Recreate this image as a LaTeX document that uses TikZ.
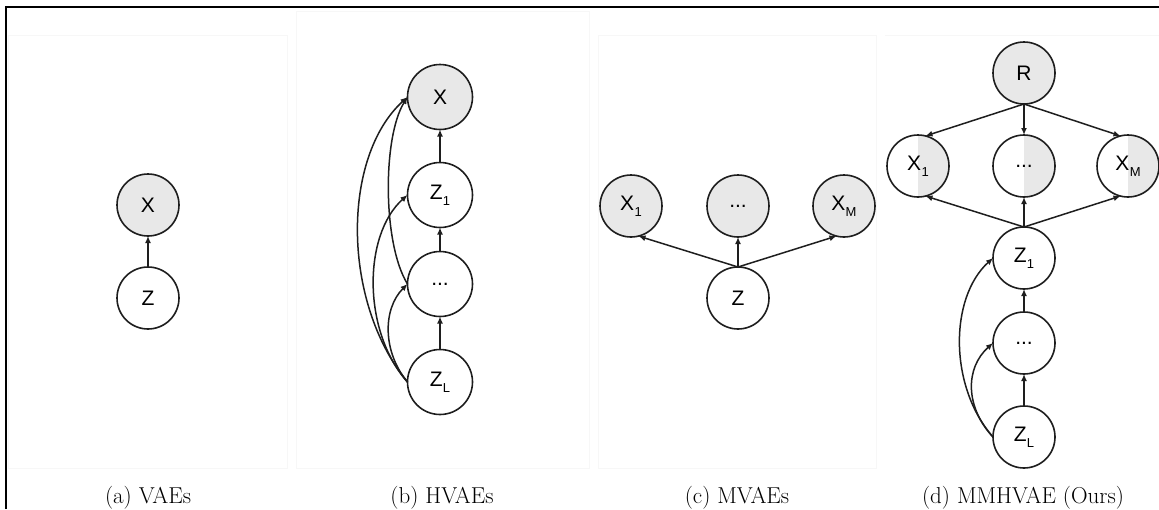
\documentclass[tikz,border=0pt]{standalone}
\usepackage{fontspec}
\newfontfamily\nodefont{Liberation Sans}
\usetikzlibrary{arrows.meta}
\definecolor{obs}{HTML}{E8E8E8}
\definecolor{ln}{HTML}{1E1E1E}
\newcommand{\mysub}[2]{#1\kern0.3pt\raisebox{-6pt}{\fontsize{13}{13}\selectfont #2}}
\begin{document}
\begin{tikzpicture}[x=1pt,y=-1pt,
  var/.style={circle,draw=ln,line width=1.6pt,minimum size=62pt,inner sep=0pt,outer sep=0pt,font=\nodefont\fontsize{21}{21}\selectfont},
  bigvar/.style={var,minimum size=65pt},
  obsvar/.style={fill=obs},
  halfvar/.style={path picture={\fill[obs] (path picture bounding box.north) rectangle (path picture bounding box.south east);}},
  edge/.style={draw=ln,line width=1.5pt,-{Latex[length=7pt,width=6pt]}},
  capt/.style={font=\fontsize{23}{23}\selectfont,anchor=base},
  panel/.style={draw=black!3,line width=0.8pt}
]
\useasboundingbox (0,0) rectangle (1159,509);
% faint panel frames
\draw[panel] (8,35) rectangle (287,468);
\draw[panel] (296,11) rectangle (589,468);
\draw[panel] (598,35) rectangle (876,468);
\draw[panel] (885,35) -- (1159,35);
% outer frame
\draw[line width=2.2pt] (6,509) -- (6,7) -- (1159,7);

% (a) VAEs
\node[var,obsvar] (aX) at (148,205) {X};
\node[var] (aZ) at (148,298) {Z};
\draw[edge] (aZ) -- (aX);
\node[capt] (ca) at (148,503) {(a) VAEs};

% (b) HVAEs
\node[bigvar,obsvar] (bX) at (440,97) {X};
\node[bigvar] (bZ1) at (440,195) {\mysub{Z}{1}};
\node[bigvar] (bD) at (440,284) {...};
\node[bigvar] (bZL) at (440,382) {\mysub{Z}{L}};
\draw[edge] (bZ1) -- (bX);
\draw[edge] (bD) -- (bZ1);
\draw[edge] (bZL) -- (bD);
\draw[edge] (bZL.west) .. controls +(-66,-80) and +(-66,60) .. (bX.west);
\draw[edge] (bD.west) .. controls +(-25,-40) and +(-25,40) .. (bX.west);
\draw[edge] (bZL.west) .. controls +(-45,-50) and +(-45,40) .. (bZ1.west);
\draw[edge] (bZL.west) .. controls +(-25,-30) and +(-25,25) .. (bD.west);
\node[capt] (cb) at (442,503) {(b) HVAEs};

% (c) MVAEs
\node[var,obsvar] (cX1) at (631,206) {\mysub{X}{1}};
\node[var,obsvar] (cD) at (738,206) {...};
\node[var,obsvar] (cXM) at (844,206) {\mysub{X}{M}};
\node[var] (cZ) at (738,298) {Z};
\draw[edge] (cZ.north) -- (cX1.-76);
\draw[edge] (cZ.north) -- (cD.south);
\draw[edge] (cZ.north) -- (cXM.-104);
\node[capt] (cc) at (737,503) {(c) MVAEs};

% (d) MMHVAE
\node[var,obsvar] (dR) at (1024,73) {R};
\node[var,halfvar] (dX1) at (918,166) {\mysub{X}{1}};
\node[var,halfvar] (dD) at (1024,166) {...};
\node[var,halfvar] (dXM) at (1128,166) {\mysub{X}{M}};
\node[var] (dZ1) at (1024,258) {\mysub{Z}{1}};
\node[var] (dD2) at (1024,343) {...};
\node[var] (dZL) at (1024,437) {\mysub{Z}{L}};
\draw[edge] (dR.south) -- (dX1.76);
\draw[edge] (dR.south) -- (dD.north);
\draw[edge] (dR.south) -- (dXM.104);
\draw[edge] (dZ1.north) -- (dX1.-76);
\draw[edge] (dZ1.north) -- (dD.south);
\draw[edge] (dZ1.north) -- (dXM.-104);
\draw[edge] (dD2) -- (dZ1);
\draw[edge] (dZL) -- (dD2);
\draw[edge] (dZL.west) .. controls +(-44,-50) and +(-44,40) .. (dZ1.west);
\draw[edge] (dZL.west) .. controls +(-28,-30) and +(-28,25) .. (dD2.west);
\node[capt] (cd) at (1023,503) {(d) MMHVAE (Ours)};
\end{tikzpicture}
\end{document}
